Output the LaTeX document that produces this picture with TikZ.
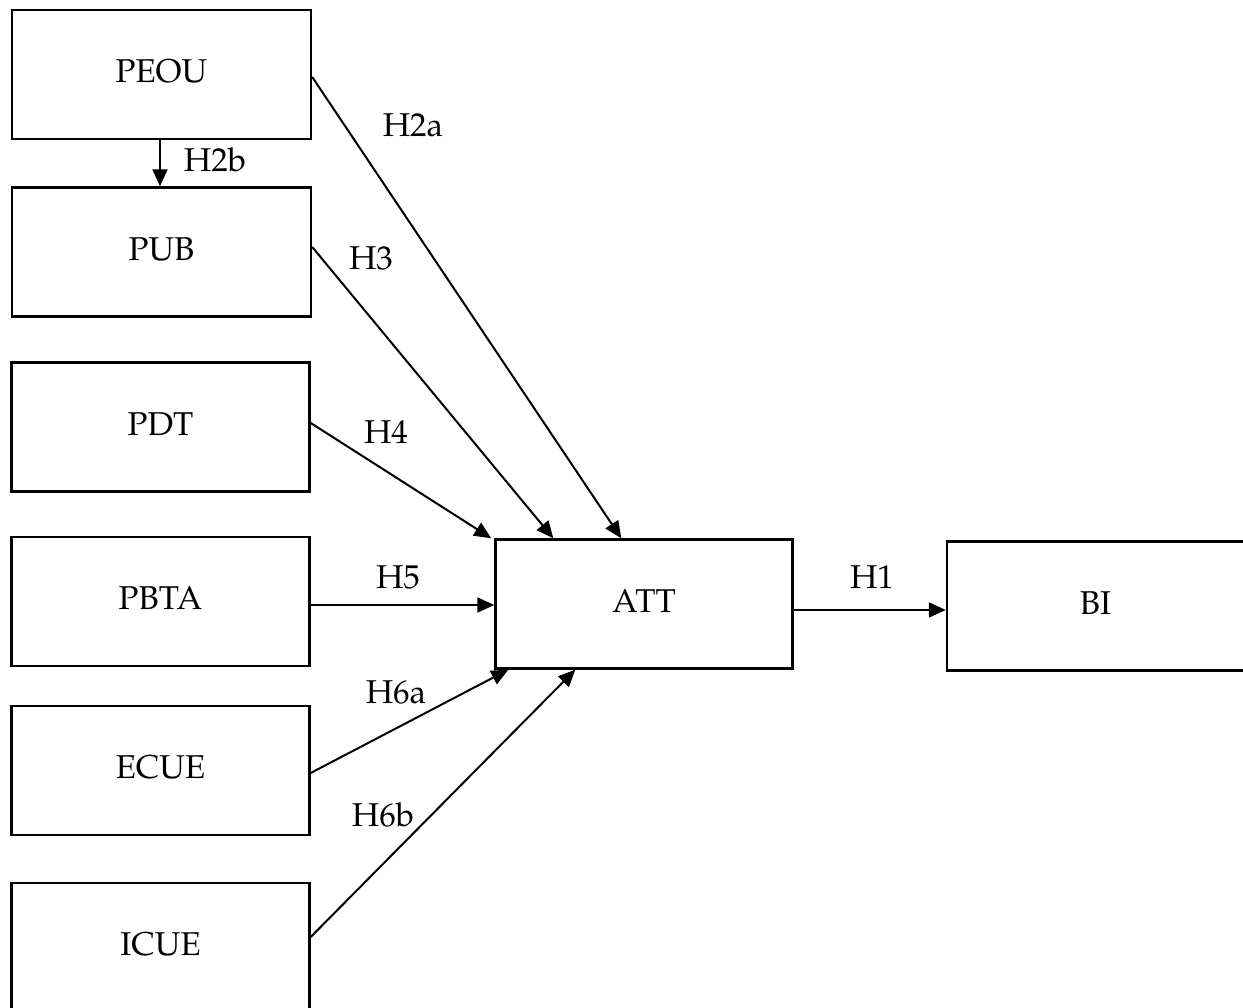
\documentclass[tikz,border=0pt]{standalone}
\usepackage[T1]{fontenc}
\usepackage{mathpazo}
\usepackage{tikz}
\usetikzlibrary{arrows.meta}

\tikzset{
  varbox/.style={draw, line width=2.4pt, minimum width=298pt, minimum height=129pt,
    inner sep=0pt, text height=23pt, text depth=6pt, font=\fontsize{33}{40}\selectfont},
  hyp/.style={line width=2pt, -{Triangle[length=17pt,width=15pt]}},
  hlabel/.style={font=\fontsize{33}{40}\selectfont}
}

\begin{document}
\begin{tikzpicture}[x=1pt,y=1pt]
      \useasboundingbox (0,0) rectangle (1243,1008);
      % left column
      \node [varbox, minimum width=299pt] (peou) at (161.5,933.5) {PEOU};
      \node [varbox, minimum width=299pt] (pub) at (161.5,756) {PUB};
      \node [varbox] (pdt) at (160.5,581) {PDT};
      \node [varbox] (pbta) at (160.5,406.5) {PBTA};
      \node [varbox] (ecue) at (160.5,237.5) {ECUE};
      \node [varbox] (icue) at (160.5,60.5) {ICUE};
      % centre and right
      \node [varbox, minimum width=297pt] (att) at (644,404) {ATT};
      \node [varbox, minimum width=297pt] (bi) at (1095.5,402) {BI};
      % hypotheses
      \draw [hyp] ([xshift=-1.5pt]peou.south) -- ([xshift=-1.5pt]peou.south |- pub.north);
      \node [hlabel] at (215,848) {H2b};
      \draw [hyp] ([yshift=-2.5pt]peou.east) -- ([xshift=127pt]att.north west);
      \node [hlabel] at (413,883) {H2a};
      \draw [hyp] ([yshift=5pt]pub.east) -- ([xshift=59pt]att.north west);
      \node [hlabel] at (371,750) {H3};
      \draw [hyp] ([yshift=4pt]pdt.east) -- ([xshift=-3pt]att.north west);
      \node [hlabel] at (386,576) {H4};
      \draw [hyp] ([yshift=-3.5pt]pbta.east) -- ([yshift=-3.5pt]pbta.east -| att.west);
      \node [hlabel] at (398,431) {H5};
      \draw [hyp] ([yshift=-2.5pt]ecue.east) -- ([xshift=14pt]att.south west);
      \node [hlabel] at (396,316) {H6a};
      \draw [hyp] ([yshift=10.5pt]icue.east) -- ([xshift=81pt]att.south west);
      \node [hlabel] at (383,193) {H6b};
      \draw [hyp] ([yshift=-6pt]att.east) -- ([yshift=-6pt]att.east -| bi.west);
      \node [hlabel] at (872,431) {H1};
\end{tikzpicture}
\end{document}
